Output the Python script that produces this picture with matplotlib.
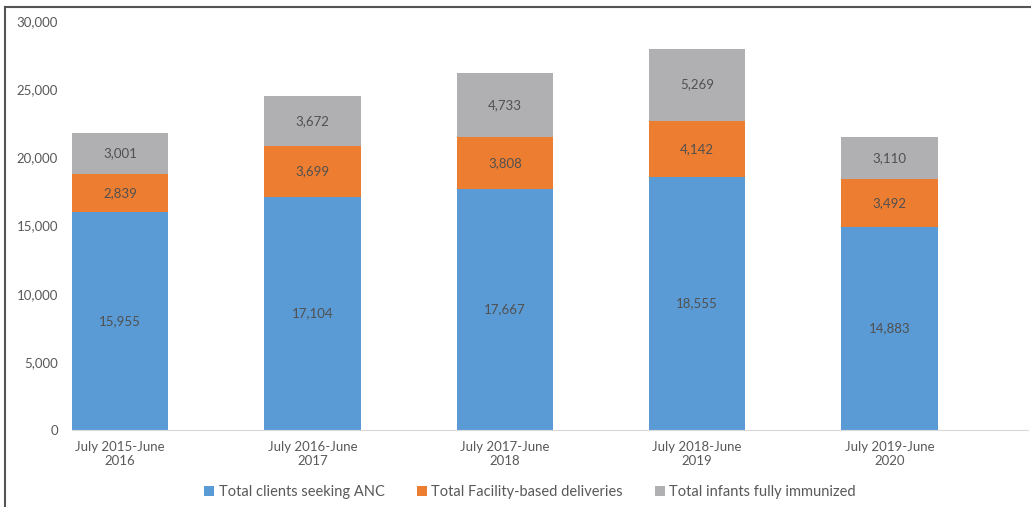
import numpy as np
import matplotlib.pyplot as plt
from matplotlib.lines import Line2D
from matplotlib.ticker import FuncFormatter

# data
periods = ["July 2015-June\n2016", "July 2016-June\n2017", "July 2017-June\n2018",
           "July 2018-June\n2019", "July 2019-June\n2020"]
anc = [15955, 17104, 17667, 18555, 14883]
deliveries = [2839, 3699, 3808, 4142, 3492]
immunized = [3001, 3672, 4733, 5269, 3110]

series = [
    ("Total clients seeking ANC", anc, "#5B9BD5"),
    ("Total Facility-based deliveries", deliveries, "#ED7D31"),
    ("Total infants fully immunized", immunized, "#B0B0B3"),
]

plt.rcParams['font.family'] = ['Lato', 'DejaVu Sans']
txt = "#595959"

fig = plt.figure(figsize=(10.31, 5.07), dpi=100)
ax = fig.add_axes([72 / 1031, 1 - 430 / 507, (1028 - 72) / 1031, (430 - 21) / 507])

x = np.arange(len(periods))
bottom = np.zeros(len(periods))
for name, vals, col in series:
    bars = ax.bar(x, vals, width=0.5, bottom=bottom, color=col, label=name)
    for b, v, bt in zip(bars, vals, bottom):
        ax.text(b.get_x() + b.get_width() / 2, bt + v / 2, f"{v:,}",
                ha="center", va="center", fontsize=9.5, color="#505050")
    bottom += np.array(vals)

ax.set_xlim(-0.25, 4.72)
ax.set_ylim(0, 30000)
ax.set_yticks(range(0, 30001, 5000))
ax.yaxis.set_major_formatter(FuncFormatter(lambda v, p: f"{int(v):,}"))
ax.set_xticks(x)
ax.set_xticklabels(periods)
ax.tick_params(axis="both", length=0, labelsize=9.5, colors=txt)
ax.tick_params(axis="y", pad=10)
ax.tick_params(axis="x", pad=8)

for s in ["top", "right", "left"]:
    ax.spines[s].set_visible(False)
ax.spines["bottom"].set_color("#D9D9D9")

ax.legend(loc="center", bbox_to_anchor=(530 / 1031, 1 - 492 / 507),
          bbox_transform=fig.transFigure, ncol=3, frameon=False,
          fontsize=10.5, labelcolor=txt, handlelength=0.7, handleheight=0.7,
          handletextpad=0.3, columnspacing=2.2)

# outer frame (left and top edges)
fig.add_artist(Line2D([5 / 1031, 5 / 1031], [0, 1 - 7 / 507], color="#555555", lw=1.5))
fig.add_artist(Line2D([5 / 1031, 1], [1 - 7 / 507, 1 - 7 / 507], color="#555555", lw=1.5))

fig.savefig("out.png", dpi=100)
